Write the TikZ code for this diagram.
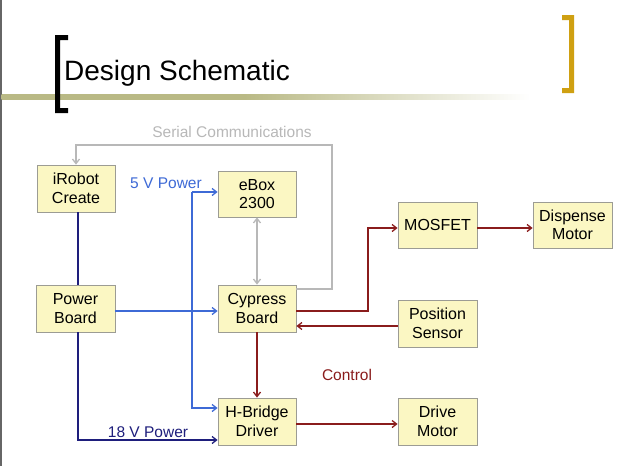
\documentclass[tikz,border=0pt]{standalone}
\usepackage{fontspec}
\setmainfont{Liberation Sans}
\usetikzlibrary{arrows.meta}
\definecolor{boxfill}{HTML}{FBF7C3}
\definecolor{boxline}{HTML}{9C9C94}
\definecolor{serialc}{HTML}{B8B8B8}
\definecolor{fivev}{HTML}{3E6AD6}
\definecolor{navyc}{HTML}{1E1E7C}
\definecolor{ctlc}{HTML}{8A1C1C}
\definecolor{goldc}{HTML}{CFA012}
\definecolor{olivec}{HTML}{B9B985}
\pgfdeclarehorizontalshading{olivefade}{100bp}{color(0bp)=(olivec); color(25bp)=(olivec); color(48bp)=(olivec); color(75bp)=(white); color(100bp)=(white)}
\begin{document}
\begin{tikzpicture}[x=1pt,y=-1pt,
  blk/.style={draw=boxline,line width=0.8pt,fill=boxfill,align=center,inner sep=0pt,
    font=\fontsize{16}{18.5}\selectfont},
  tip/.style={-{Straight Barb[length=4.5pt,width=7pt,line width=1.3pt]}},
  serial/.style={draw=serialc,line width=1.7pt},
  pw/.style={draw=fivev,line width=1.7pt},
  navy/.style={draw=navyc,line width=1.7pt},
  ctl/.style={draw=ctlc,line width=1.7pt},
  lbl/.style={font=\fontsize{15.5}{18}\selectfont,inner sep=0pt}]
\useasboundingbox (0,0) rectangle (620,466);
\fill[white] (0,0) rectangle (620,466);
% slide border and title decoration
\fill[gray!80!black] (0,0) rectangle (1.5,466);
\shade[shading=olivefade] (1.5,94) rectangle (530,99);
\fill[black] (55,35) -- (68,35) -- (68,40) -- (60,40) -- (60,108) -- (68,108) -- (68,113) -- (55,113) -- cycle;
\fill[goldc] (574,15) -- (562,15) -- (562,20) -- (569,20) -- (569,88) -- (562,88) -- (562,93) -- (574,93) -- cycle;
\node[anchor=base west,inner sep=0pt,font=\fontsize{28}{32}\selectfont] (title) at (64,80) {Design Schematic};
% blocks
\node[blk,minimum width=78pt,minimum height=47pt] (irobot) at (76,188.5) {iRobot\\Create};
\node[blk,minimum width=78pt,minimum height=46pt] (ebox) at (257,194) {eBox\\2300};
\node[blk,minimum width=79pt,minimum height=47pt] (power) at (75.5,308.5) {Power\\Board};
\node[blk,minimum width=78pt,minimum height=47pt] (cypress) at (257,308.5) {Cypress\\Board};
\node[blk,minimum width=78pt,minimum height=47pt] (hbridge) at (257,421.5) {H-Bridge\\Driver};
\node[blk,minimum width=79pt,minimum height=46pt] (mosfet) at (437.5,225) {MOSFET};
\node[blk,minimum width=79pt,minimum height=46pt] (dispense) at (572.5,225) {Dispense\\Motor};
\node[blk,minimum width=79pt,minimum height=47pt] (position) at (437.5,323.5) {Position\\Sensor};
\node[blk,minimum width=79pt,minimum height=47pt] (drive) at (437.5,421.5) {Drive\\Motor};
% serial communications
\coordinate (sc) at (332,145);
\draw[serial,tip] ([yshift=19.5pt]cypress.east) -| (sc) -| (irobot.north);
\draw[serial,{Straight Barb[length=4.5pt,width=7pt,line width=1.3pt]}-{Straight Barb[length=4.5pt,width=7pt,line width=1.3pt]}] (ebox.south) -- (cypress.north);
\node[lbl,text=serialc] (seriallbl) at (232,132) {Serial Communications};
% 5 V power
\coordinate (v5) at (192,192);
\draw[pw,tip] (v5) -- (v5 -| ebox.west);
\draw[pw,tip] (v5) |- ([yshift=13.5pt]hbridge.west);
\draw[pw,tip] ([yshift=-2.5pt]power.east) -- ([yshift=-2.5pt]cypress.west);
\node[lbl,text=fivev] (fivelbl) at (166,183) {5 V Power};
% 18 V power
\draw[navy] ([xshift=2pt]irobot.south) -- ([xshift=2.5pt]power.north);
\draw[navy,tip] ([xshift=2.5pt]power.south) |- ([yshift=-18.5pt]hbridge.west);
\node[lbl,text=navyc] (eighteenlbl) at (148,432) {18 V Power};
% control
\draw[ctl,tip] ([yshift=-2.5pt]cypress.east) -| (368,228) -- ([yshift=-3pt]mosfet.west);
\draw[ctl,tip] ([yshift=-2.5pt]position.west) -- ([yshift=-2.5pt]position.west -| cypress.east);
\draw[ctl,tip] (cypress.south) -- (hbridge.north);
\draw[ctl,tip] ([yshift=-2.5pt]hbridge.east) -- ([yshift=-2.5pt]drive.west);
\draw[ctl,tip] ([yshift=-3pt]mosfet.east) -- ([yshift=-3pt]dispense.west);
\node[lbl,text=ctlc] (ctllbl) at (347,375) {Control};
\end{tikzpicture}
\end{document}
